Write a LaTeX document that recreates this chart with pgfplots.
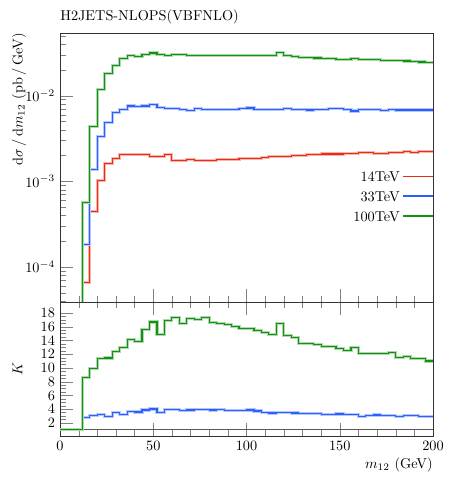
\documentclass[border=0pt]{standalone}
\usepackage{pgfplots}
\pgfplotsset{compat=1.18}
\usepackage{pgfplotstable}
\definecolor{cred}{RGB}{232,45,20}
\definecolor{cblue}{RGB}{45,95,255}
\definecolor{cgreen}{RGB}{20,145,20}
\pgfplotstableread{
x R B G
12 1e-6 1e-6 1e-6
12 6.53e-5 1.82e-4 5.65e-4
16 4.42e-4 1.39e-3 4.36e-3
20 1.03e-3 3.37e-3 1.17e-2
24 1.62e-3 4.86e-3 1.83e-2
28 1.83e-3 6.39e-3 2.27e-2
32 2.08e-3 6.86e-3 2.69e-2
36 2.08e-3 7.58e-3 2.94e-2
40 2.06e-3 7.55e-3 2.86e-2
44 2.08e-3 7.58e-3 3.00e-2
48 1.97e-3 7.85e-3 3.16e-2
52 1.94e-3 7.31e-3 3.00e-2
56 2.04e-3 7.05e-3 2.97e-2
60 1.77e-3 7.08e-3 3.02e-2
64 1.77e-3 6.98e-3 3.00e-2
68 1.79e-3 6.74e-3 2.97e-2
72 1.77e-3 7.05e-3 2.98e-2
76 1.74e-3 6.86e-3 2.96e-2
80 1.75e-3 6.86e-3 2.95e-2
84 1.78e-3 6.90e-3 2.94e-2
88 1.78e-3 6.90e-3 2.92e-2
92 1.81e-3 6.98e-3 2.93e-2
96 1.85e-3 7.10e-3 2.92e-2
100 1.85e-3 7.18e-3 2.94e-2
104 1.86e-3 6.98e-3 2.93e-2
108 1.90e-3 6.86e-3 2.93e-2
112 1.95e-3 6.86e-3 2.94e-2
116 1.96e-3 6.86e-3 3.22e-2
120 1.97e-3 7.10e-3 2.92e-2
124 2.00e-3 6.98e-3 2.86e-2
128 2.01e-3 6.98e-3 2.79e-2
132 2.06e-3 6.80e-3 2.80e-2
136 2.07e-3 6.90e-3 2.76e-2
140 2.09e-3 6.98e-3 2.71e-2
144 2.09e-3 7.10e-3 2.71e-2
148 2.09e-3 7.05e-3 2.67e-2
152 2.11e-3 6.98e-3 2.67e-2
156 2.11e-3 6.62e-3 2.74e-2
160 2.17e-3 6.86e-3 2.64e-2
164 2.15e-3 6.90e-3 2.63e-2
168 2.13e-3 6.90e-3 2.62e-2
172 2.13e-3 6.70e-3 2.60e-2
176 2.19e-3 6.86e-3 2.60e-2
180 2.15e-3 6.80e-3 2.55e-2
184 2.21e-3 6.80e-3 2.54e-2
188 2.17e-3 6.80e-3 2.53e-2
192 2.21e-3 6.80e-3 2.48e-2
196 2.25e-3 6.80e-3 2.46e-2
200 2.25e-3 6.80e-3 2.46e-2
}\toptable
\pgfplotstableread{
x KB KG
0 1 1
4 1 1
8 1 1
12 2.77 8.57
16 3.11 9.94
20 3.26 11.36
24 2.97 11.46
28 3.46 12.38
32 3.26 12.97
36 3.65 14.19
40 3.60 13.80
44 3.89 15.55
48 4.03 16.68
52 3.55 14.93
56 3.94 16.87
60 4.00 17.36
64 3.85 16.43
68 3.89 17.15
72 3.97 17.10
76 3.97 17.30
80 3.89 16.63
84 3.94 16.43
88 3.85 16.29
92 3.80 16.04
96 3.85 15.75
100 3.89 15.70
104 3.74 15.50
108 3.55 15.17
112 3.45 14.82
116 3.50 16.48
120 3.50 14.68
124 3.45 14.43
128 3.40 13.60
132 3.35 13.57
136 3.35 13.46
140 3.26 13.11
144 3.26 13.16
148 3.30 12.87
152 3.26 12.58
156 3.21 13.02
160 2.97 12.14
164 3.11 12.10
168 3.16 12.10
172 3.11 12.14
176 3.06 12.23
180 3.00 11.56
184 3.06 11.70
188 3.06 11.36
192 3.00 11.40
196 2.97 11.02
200 2.97 11.02
}\ktable
\begin{document}
\begin{tikzpicture}
\pgfplotsset{
  every axis/.append style={
    scale only axis, width=261.1pt, xmin=0, xmax=200,
    axis line style={line width=0.6pt, black!80},
    major tick length=9pt, minor tick length=4.5pt,
    xtick={0,50,100,150,200}, minor x tick num=4,
    ytick pos=left,
  },
  bandline/.style={line width=2.2pt, forget plot, const plot},
  mainline/.style={line width=0.8pt, const plot, forget plot},
}
\begin{axis}[
  at={(42pt,-23.1pt)}, anchor=north west,
  height=188.3pt,
  ymode=log, ymin=3.9e-5, ymax=5.4e-2,
  xtick pos=bottom, xticklabels={},
  ylabel={$\mathrm{d}\sigma\,/\,\mathrm{d}m_{12}$ (pb\,/\,GeV)},
  ylabel style={at={(axis description cs:-0.09,1)}, anchor=south east, inner sep=0pt},
  legend plot pos=right, legend cell align=right,
  legend style={draw=none, fill=none, at={(axis description cs:1,0.505)}, anchor=north east,
    inner sep=0pt, row sep=0pt, font=\strut},
  legend image code/.code={\fill[#1, draw opacity=0, line width=0pt] (3pt,-0.55pt) rectangle (24pt,0.55pt);},
]
\addplot[bandline, color=cred!35] table[x=x,y=R]{\toptable};
\addplot[mainline, color=cred] table[x=x,y=R]{\toptable};
\addplot[bandline, color=cblue!35] table[x=x,y=B]{\toptable};
\addplot[mainline, color=cblue] table[x=x,y=B]{\toptable};
\addplot[bandline, color=cgreen!35] table[x=x,y=G]{\toptable};
\addplot[mainline, color=cgreen] table[x=x,y=G]{\toptable};
\addlegendimage{fill=cred}
\addlegendentry{14TeV}
\addlegendimage{fill=cblue}
\addlegendentry{33TeV}
\addlegendimage{fill=cgreen}
\addlegendentry{100TeV}
\end{axis}
\node[anchor=base west, inner sep=0pt] at (42pt,-14pt) {H2JETS-NLOPS(VBFNLO)};
\begin{axis}[
  at={(42pt,-211.4pt)}, anchor=north west,
  height=93.8pt,
  ymin=0.1, ymax=19.6,
  ytick={2,4,...,18}, minor y tick num=3,
  xtick pos=both,
  ylabel={$K$},
  ylabel style={at={(axis description cs:-0.10,0.5)}, anchor=south, inner sep=0pt},
  xlabel={$m_{12}$ (GeV)},
  xlabel style={at={(axis description cs:1,0)}, anchor=north east, inner sep=0pt, yshift=-15pt},
]
\addplot[line width=0.8pt, black!65, forget plot] coordinates {(0,1) (200,1)};
\addplot[bandline, color=cblue!35] table[x=x,y=KB]{\ktable};
\addplot[mainline, color=cblue] table[x=x,y=KB]{\ktable};
\addplot[bandline, color=cgreen!35] table[x=x,y=KG]{\ktable};
\addplot[mainline, color=cgreen] table[x=x,y=KG]{\ktable};
\end{axis}
\path[use as bounding box] (0,0) rectangle (310.8pt,-334.6pt);
\end{tikzpicture}
\end{document}
